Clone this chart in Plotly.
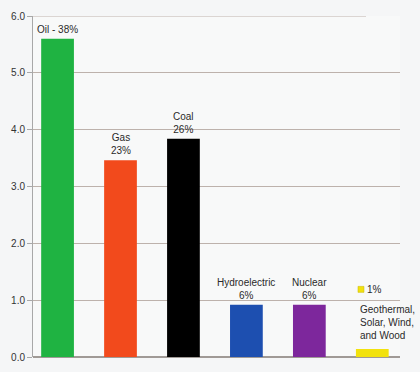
import plotly.graph_objects as go

categories = ["Oil", "Gas", "Coal", "Hydroelectric", "Nuclear", "Other"]
values = [5.6, 3.46, 3.84, 0.92, 0.92, 0.14]
colors = ["#1fb342", "#f24a1c", "#000000", "#1d4fb0", "#7d279c", "#f2e20e"]
labels = ["Oil - 38%", "Gas<br>23%", "Coal<br>26%", "Hydroelectric<br>6%", "Nuclear<br>6%", ""]
other_pct = "1%"
other_text = "Geothermal,<br>Solar, Wind,<br>and Wood"
tick_vals = [0, 1, 2, 3, 4, 5, 6]
tick_text = ["0.0", "1.0", "2.0", "3.0", "4.0", "5.0", "6.0"]

x = list(range(len(categories)))

fig = go.Figure()
fig.add_trace(go.Bar(
    x=x, y=values, marker=dict(color=colors, line=dict(width=0)),
    width=0.52, hoverinfo="skip",
))

font = dict(family="Liberation Sans, Arial", size=10, color="#2a2a2a")
for i, (v, lab) in enumerate(zip(values, labels)):
    if lab:
        fig.add_annotation(x=i, y=v, text=lab, showarrow=False, yanchor="bottom",
                           yshift=2, font=font, align="center")

# Other sources label with small yellow square marker
fig.add_trace(go.Scatter(x=[4.82], y=[1.19], mode="markers",
                         marker=dict(symbol="square", size=6, color="#f2e20e",
                                     line=dict(color="#c8b800", width=0.5)),
                         hoverinfo="skip", showlegend=False))
fig.add_annotation(x=4.82, y=1.19, text=other_pct, showarrow=False, xanchor="left",
                   yanchor="middle", xshift=4, font=font, align="left")
fig.add_annotation(x=4.82, y=0.6, text=other_text, showarrow=False, xanchor="left",
                   yanchor="middle", xshift=-3, font=font, align="left")

# top gridline (stops short of the right edge in the reference)
fig.add_shape(type="line", x0=-0.39, x1=4.9, y0=6, y1=6, xref="x", yref="y",
              line=dict(color="#bdb2ac", width=1), layer="below")

fig.update_layout(
    width=420, height=372,
    margin=dict(l=33, r=20, t=16, b=9),
    paper_bgcolor="#f5f6f7",
    plot_bgcolor="#f8f9f9",
    showlegend=False,
    bargap=0.48,
    xaxis=dict(range=[-0.39, 5.44], showticklabels=False, showgrid=False, zeroline=False,
               showline=False, fixedrange=True),
    yaxis=dict(range=[0, 6], tickvals=tick_vals, ticktext=tick_text,
               showgrid=True, gridcolor="#bdb2ac", gridwidth=1,
               showline=True, linecolor="#a8a8a8", linewidth=1,
               ticks="outside", ticklen=5, tickcolor="#a8a8a8",
               zeroline=True, zerolinecolor="#a09a96", zerolinewidth=1.5,
               tickfont=dict(family="Liberation Sans, Arial", size=10, color="#333333")),
)

fig.write_html("out.html")
